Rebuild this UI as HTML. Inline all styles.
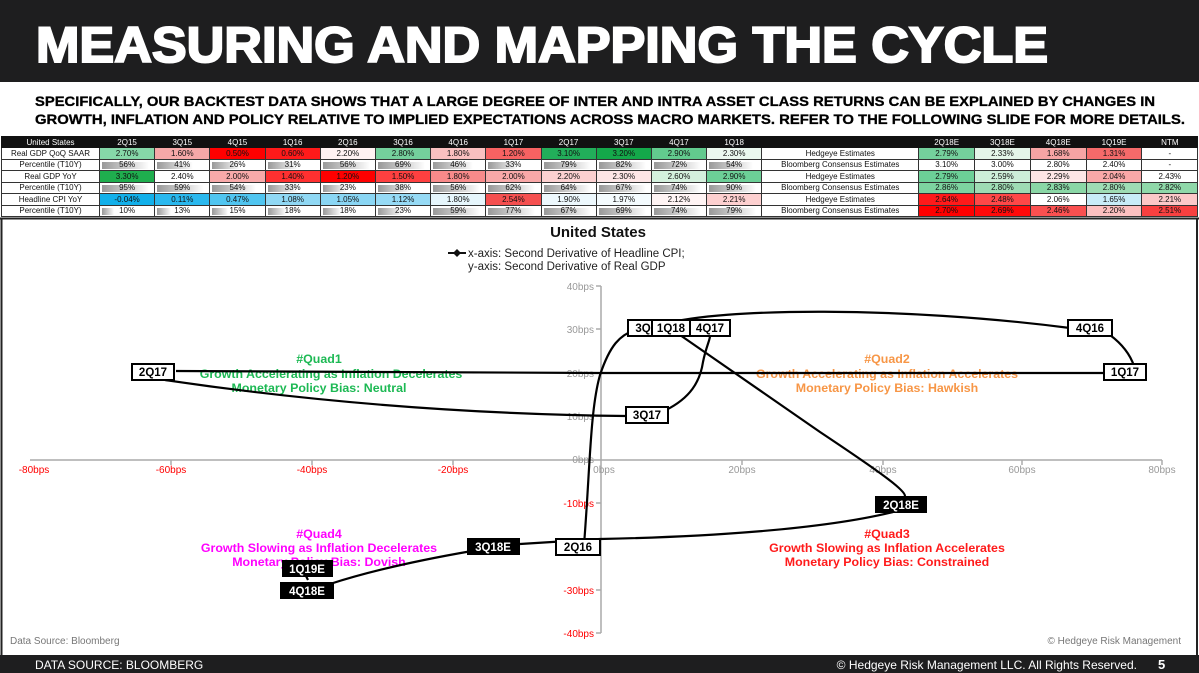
<!DOCTYPE html>
<html><head><meta charset="utf-8"><style>
*{margin:0;padding:0;box-sizing:border-box}
body{width:1199px;height:673px;position:relative;background:#fff;overflow:hidden;font-family:"Liberation Sans",sans-serif}
#tbl{position:absolute;left:1px;top:136px;width:1197px;border-collapse:collapse;table-layout:fixed;font-size:8px;}
#tbl td{height:11.5px;border:1px solid #333;text-align:center;line-height:9px;padding:0;white-space:nowrap;overflow:hidden;color:#111}
#tbl tr.h td{background:#111;color:#fff;border-color:#111;height:11px}
#tbl td.l{background:#fff}
.p{background:linear-gradient(90deg,#999,#eee 85%,#fff) no-repeat 2px 2px/var(--w) 7px,#fff}
svg{position:absolute;left:0;top:0}
</style></head><body>
<table id="tbl">
<colgroup><col style="width:98px"><col span="12" style="width:55.2px"><col style="width:157px"><col span="5" style="width:55.8px"></colgroup>
<tr class="h"><td>United States</td><td>2Q15</td><td>3Q15</td><td>4Q15</td><td>1Q16</td><td>2Q16</td><td>3Q16</td><td>4Q16</td><td>1Q17</td><td>2Q17</td><td>3Q17</td><td>4Q17</td><td>1Q18</td><td></td><td>2Q18E</td><td>3Q18E</td><td>4Q18E</td><td>1Q19E</td><td>NTM</td></tr>
<tr><td class="l">Real GDP QoQ SAAR</td><td style="background:#86d7a8">2.70%</td><td style="background:#f6a8a8">1.60%</td><td style="background:#ff0000">0.50%</td><td style="background:#ff1a1a">0.60%</td><td style="background:#fff2f2">2.20%</td><td style="background:#74d09c">2.80%</td><td style="background:#f9c0c0">1.80%</td><td style="background:#f76262">1.20%</td><td style="background:#22ae5a">3.10%</td><td style="background:#14a84a">3.20%</td><td style="background:#62cb8e">2.90%</td><td style="background:#ebf8ef">2.30%</td><td>Hedgeye Estimates</td><td style="background:#74d09c">2.79%</td><td style="background:#e4f5e9">2.33%</td><td style="background:#f6a4a4">1.68%</td><td style="background:#f56a6a">1.31%</td><td>-</td></tr>
<tr><td class="l">Percentile (T10Y)</td><td class="p" style="--w:47px">56%</td><td class="p" style="--w:36px">41%</td><td class="p" style="--w:28px">26%</td><td class="p" style="--w:30px">31%</td><td class="p" style="--w:47px">56%</td><td class="p" style="--w:47px">69%</td><td class="p" style="--w:40px">46%</td><td class="p" style="--w:30px">33%</td><td class="p" style="--w:47px">79%</td><td class="p" style="--w:47px">82%</td><td class="p" style="--w:47px">72%</td><td class="p" style="--w:44px">54%</td><td>Bloomberg Consensus Estimates</td><td>3.10%</td><td>3.00%</td><td>2.80%</td><td>2.40%</td><td>-</td></tr>
<tr><td class="l">Real GDP YoY</td><td style="background:#1fae4e">3.30%</td><td style="background:#fff">2.40%</td><td style="background:#f8aaaa">2.00%</td><td style="background:#ff3030">1.40%</td><td style="background:#ff0000">1.20%</td><td style="background:#ff4040">1.50%</td><td style="background:#f88a8a">1.80%</td><td style="background:#f9a8a8">2.00%</td><td style="background:#fcd0d0">2.20%</td><td style="background:#fde6e6">2.30%</td><td style="background:#d4f0dd">2.60%</td><td style="background:#6ccf97">2.90%</td><td>Hedgeye Estimates</td><td style="background:#6ccf97">2.79%</td><td style="background:#cdeed8">2.59%</td><td style="background:#fde6e6">2.29%</td><td style="background:#f9a8a8">2.04%</td><td>2.43%</td></tr>
<tr><td class="l">Percentile (T10Y)</td><td class="p" style="--w:47px">95%</td><td class="p" style="--w:47px">59%</td><td class="p" style="--w:44px">54%</td><td class="p" style="--w:30px">33%</td><td class="p" style="--w:24px">23%</td><td class="p" style="--w:34px">38%</td><td class="p" style="--w:47px">56%</td><td class="p" style="--w:47px">62%</td><td class="p" style="--w:47px">64%</td><td class="p" style="--w:47px">67%</td><td class="p" style="--w:47px">74%</td><td class="p" style="--w:47px">90%</td><td>Bloomberg Consensus Estimates</td><td style="background:#7dd4a0">2.86%</td><td style="background:#9edcb4">2.80%</td><td style="background:#8ad7a6">2.83%</td><td style="background:#9edcb4">2.80%</td><td style="background:#8fd8a9">2.82%</td></tr>
<tr><td class="l">Headline CPI YoY</td><td style="background:#12b0ea">-0.04%</td><td style="background:#2ab8ee">0.11%</td><td style="background:#50c5f0">0.47%</td><td style="background:#90d8f4">1.08%</td><td style="background:#8ad6f4">1.05%</td><td style="background:#96daf5">1.12%</td><td style="background:#e6f6fc">1.80%</td><td style="background:#f55050">2.54%</td><td style="background:#edf8fd">1.90%</td><td style="background:#f4fbfe">1.97%</td><td style="background:#fff4f4">2.12%</td><td style="background:#fdd0d0">2.21%</td><td>Hedgeye Estimates</td><td style="background:#ff1a1a">2.64%</td><td style="background:#ff4848">2.48%</td><td>2.06%</td><td style="background:#c8ecf8">1.65%</td><td style="background:#fcc8c8">2.21%</td></tr>
<tr><td class="l">Percentile (T10Y)</td><td class="p" style="--w:12px">10%</td><td class="p" style="--w:14px">13%</td><td class="p" style="--w:16px">15%</td><td class="p" style="--w:18px">18%</td><td class="p" style="--w:18px">18%</td><td class="p" style="--w:24px">23%</td><td class="p" style="--w:47px">59%</td><td class="p" style="--w:47px">77%</td><td class="p" style="--w:47px">67%</td><td class="p" style="--w:47px">69%</td><td class="p" style="--w:47px">74%</td><td class="p" style="--w:47px">79%</td><td>Bloomberg Consensus Estimates</td><td style="background:#ff0000">2.70%</td><td style="background:#ff0a0a">2.69%</td><td style="background:#fa5050">2.46%</td><td style="background:#fcc0c0">2.20%</td><td style="background:#f84040">2.51%</td></tr>
</table>
<svg width="1199" height="673" viewBox="0 0 1199 673" font-family="Liberation Sans, sans-serif">
<rect x="0" y="0" width="1199" height="82" fill="#1e1e1f"/>
<text x="36" y="62" font-size="50" font-weight="bold" fill="#fff" stroke="#fff" stroke-width="2" textLength="1012" lengthAdjust="spacingAndGlyphs">MEASURING AND MAPPING THE CYCLE</text>
<text x="35" y="106" font-size="13.5" font-weight="bold" fill="#000" stroke="#000" stroke-width="0.3" textLength="1120" lengthAdjust="spacingAndGlyphs">SPECIFICALLY, OUR BACKTEST DATA SHOWS THAT A LARGE DEGREE OF INTER AND INTRA ASSET CLASS RETURNS CAN BE EXPLAINED BY CHANGES IN</text>
<text x="35" y="124" font-size="13.5" font-weight="bold" fill="#000" stroke="#000" stroke-width="0.3" textLength="1150" lengthAdjust="spacingAndGlyphs">GROWTH, INFLATION AND POLICY RELATIVE TO IMPLIED EXPECTATIONS ACROSS MACRO MARKETS. REFER TO THE FOLLOWING SLIDE FOR MORE DETAILS.</text>
<!-- chart frame -->
<line x1="1.5" y1="218" x2="1.5" y2="656" stroke="#222" stroke-width="2"/>
<line x1="1197" y1="218" x2="1197" y2="656" stroke="#222" stroke-width="2"/>
<line x1="0" y1="218.5" x2="1199" y2="218.5" stroke="#222" stroke-width="2"/>
<rect x="0" y="655" width="1199" height="18" fill="#1e1e1f"/>
<text x="35" y="669" font-size="12" fill="#fff">DATA SOURCE: BLOOMBERG</text>
<text x="1137" y="669" font-size="12" fill="#fff" text-anchor="end">© Hedgeye Risk Management LLC. All Rights Reserved.</text>
<text x="1158" y="669" font-size="13" font-weight="bold" fill="#fff">5</text>
<!-- title & legend -->
<text x="598" y="237" font-size="15" font-weight="bold" text-anchor="middle" fill="#111">United States</text>
<line x1="448" y1="253" x2="466" y2="253" stroke="#111" stroke-width="2"/>
<path d="M457 249 L461 253 L457 257 L453 253Z" fill="#111"/>
<text x="468" y="257" font-size="11.5" fill="#222">x-axis: Second Derivative of Headline CPI;</text>
<text x="468" y="270" font-size="11.5" fill="#222">y-axis: Second Derivative of Real GDP</text>
<!-- axes -->
<g stroke="#aaa" stroke-width="1.5">
<line x1="30" y1="460" x2="1162" y2="460"/>
<line x1="601" y1="286" x2="601" y2="633"/>
<line x1="596" y1="286" x2="601" y2="286"/><line x1="596" y1="329" x2="601" y2="329"/><line x1="596" y1="373" x2="601" y2="373"/><line x1="596" y1="416" x2="601" y2="416"/><line x1="596" y1="503" x2="601" y2="503"/><line x1="596" y1="546" x2="601" y2="546"/><line x1="596" y1="590" x2="601" y2="590"/><line x1="596" y1="633" x2="601" y2="633"/>
<line x1="171" y1="460" x2="171" y2="465"/><line x1="312" y1="460" x2="312" y2="465"/><line x1="453" y1="460" x2="453" y2="465"/><line x1="742" y1="460" x2="742" y2="465"/><line x1="883" y1="460" x2="883" y2="465"/><line x1="1022" y1="460" x2="1022" y2="465"/><line x1="1162" y1="460" x2="1162" y2="465"/>
</g>
<g font-size="10" text-anchor="end">
<text x="594" y="290" fill="#999">40bps</text><text x="594" y="333" fill="#999">30bps</text><text x="594" y="377" fill="#999">20bps</text><text x="594" y="420" fill="#999">10bps</text><text x="594" y="463" fill="#999">0bps</text>
<text x="594" y="507" fill="#f00">-10bps</text><text x="594" y="550" fill="#f00">-20bps</text><text x="594" y="594" fill="#f00">-30bps</text><text x="594" y="637" fill="#f00">-40bps</text>
</g>
<g font-size="10" text-anchor="middle">
<text x="34" y="473" fill="#f00">-80bps</text><text x="171" y="473" fill="#f00">-60bps</text><text x="312" y="473" fill="#f00">-40bps</text><text x="453" y="473" fill="#f00">-20bps</text>
<text x="604" y="473" fill="#999">0bps</text><text x="742" y="473" fill="#999">20bps</text><text x="883" y="473" fill="#999">40bps</text><text x="1022" y="473" fill="#999">60bps</text><text x="1162" y="473" fill="#999">80bps</text>
</g>
<text x="10" y="644" font-size="10" fill="#777">Data Source: Bloomberg</text>
<text x="1181" y="644" font-size="10" fill="#777" text-anchor="end">© Hedgeye Risk Management</text>
<!-- quad texts -->
<g font-size="12.4" font-weight="bold" text-anchor="middle">
<g fill="#1db954"><text x="319" y="363">#Quad1</text><text x="331" y="378">Growth Accelerating as Inflation Decelerates</text><text x="319" y="392">Monetary Policy Bias: Neutral</text></g>
<g fill="#f79646"><text x="887" y="363">#Quad2</text><text x="887" y="378">Growth Accelerating as Inflation Accelerates</text><text x="887" y="392">Monetary Policy Bias: Hawkish</text></g>
<g fill="#ff1a1a"><text x="887" y="538">#Quad3</text><text x="887" y="552">Growth Slowing as Inflation Accelerates</text><text x="887" y="566">Monetary Policy Bias: Constrained</text></g>
<g fill="#ff00ff"><text x="319" y="538">#Quad4</text><text x="319" y="552">Growth Slowing as Inflation Decelerates</text><text x="319" y="566">Monetary Policy Bias: Dovish</text></g>
</g>
<!-- path -->
<g fill="none" stroke="#000" stroke-width="2.2">
<path d="M584,545 C590,470 590,410 600,375 C610,345 620,335 635,330"/>
<path d="M665,324 C720,308 900,306 1070,328"/>
<path d="M1110,335 C1122,344 1130,354 1134,366"/>
<path d="M1105,373 L600,373 L176,371"/>
<path d="M165,380 C300,400 450,414 626,416"/>
<path d="M666,410 C690,398 700,382 703,362 C706,347 710,340 710,336"/>
<path d="M680,335 L820,432 C880,472 905,490 905,496"/>
<path d="M893,512 C820,530 700,537 600,539 L520,544"/>
<path d="M472,551 C420,560 370,571 330,584"/>
<path d="M308,580 L306,576"/>
</g>
<!-- labels -->
<g font-size="11.5" font-weight="bold" text-anchor="middle">
<rect x="628" y="320" width="30" height="16" fill="#fff" stroke="#000" stroke-width="2"/><text x="643" y="332">3Q</text>
<rect x="652" y="320" width="38" height="16" fill="#fff" stroke="#000" stroke-width="2"/><text x="671" y="332">1Q18</text>
<rect x="690" y="320" width="40" height="16" fill="#fff" stroke="#000" stroke-width="2"/><text x="710" y="332">4Q17</text>
<rect x="1068" y="320" width="44" height="16" fill="#fff" stroke="#000" stroke-width="2"/><text x="1090" y="332">4Q16</text>
<rect x="1104" y="364" width="42" height="16" fill="#fff" stroke="#000" stroke-width="2"/><text x="1125" y="376">1Q17</text>
<rect x="132" y="364" width="42" height="16" fill="#fff" stroke="#000" stroke-width="2"/><text x="153" y="376">2Q17</text>
<rect x="626" y="407" width="42" height="16" fill="#fff" stroke="#000" stroke-width="2"/><text x="647" y="419">3Q17</text>
<rect x="556" y="539" width="44" height="16" fill="#fff" stroke="#000" stroke-width="2"/><text x="578" y="551">2Q16</text>
<rect x="875" y="496" width="52" height="17" fill="#000"/><text x="901" y="509" fill="#fff">2Q18E</text>
<rect x="467" y="538" width="53" height="17" fill="#000"/><text x="493" y="551" fill="#fff">3Q18E</text>
<rect x="282" y="560" width="51" height="17" fill="#000"/><text x="307" y="573" fill="#fff">1Q19E</text>
<rect x="280" y="582" width="54" height="17" fill="#000"/><text x="307" y="595" fill="#fff">4Q18E</text>
</g>
</svg>
</body></html>
